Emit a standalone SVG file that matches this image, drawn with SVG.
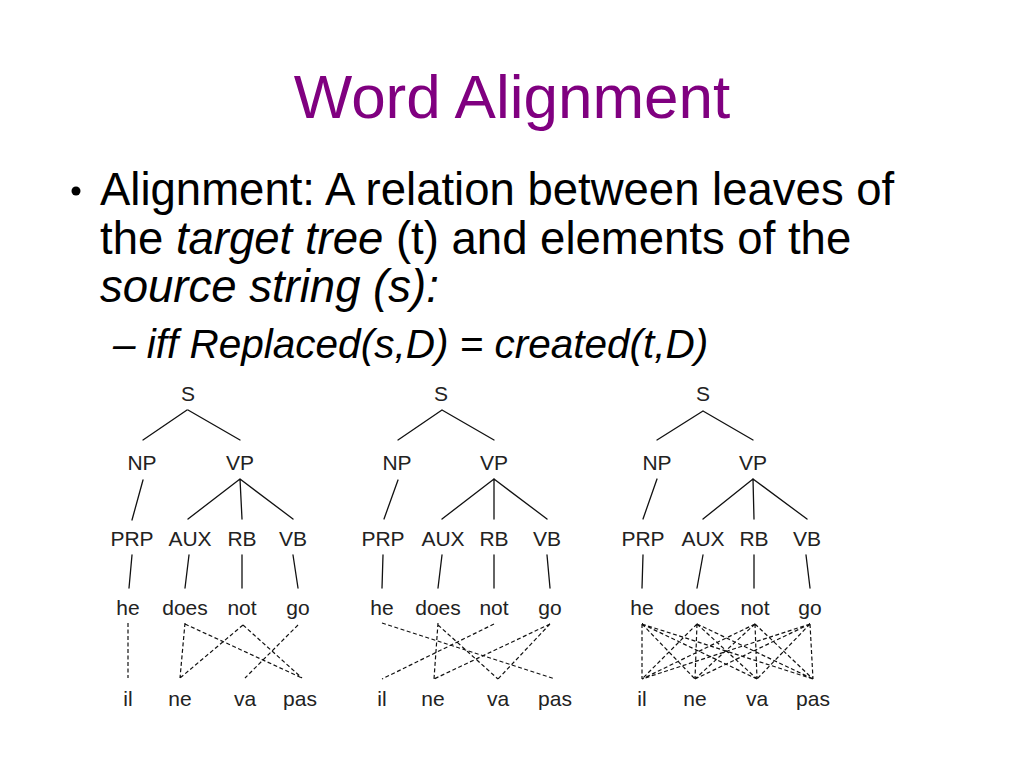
<svg xmlns="http://www.w3.org/2000/svg" width="1024" height="768" viewBox="0 0 1024 768">
<style>
.title{font-family:"Liberation Sans",Arial,sans-serif;font-size:62px;fill:#800080}
.body{font-family:"Liberation Sans",Arial,sans-serif;font-size:45.5px;fill:#000}
.sub{font-family:"Liberation Sans",Arial,sans-serif;font-size:40.5px;fill:#000;font-style:italic}
.lab{font-family:"Liberation Sans",Arial,sans-serif;font-size:21px;fill:#222;text-anchor:middle}
.edge{stroke:#111;stroke-width:1.3;fill:none;stroke-linecap:round}
.align{stroke:#111;stroke-width:1.2;fill:none;stroke-dasharray:4 2.5}
</style>
<rect width="1024" height="768" fill="#fff"/>
<text class="title" x="512" y="118" text-anchor="middle">Word Alignment</text>
<circle cx="76" cy="191" r="4.5" fill="#000"/>
<text class="body" x="100" y="205">Alignment: A relation between leaves of</text>
<text class="body" x="100" y="254">the <tspan font-style="italic">target tree</tspan> (t) and elements of the</text>
<text class="body" x="100" y="302" font-style="italic">source string (s):</text>
<text class="sub" x="113" y="358">– iff Replaced(s,D) = created(t,D)</text>

<g id="tree1">
<g id="t1-nodes">
<text class="lab" x="188" y="401">S</text>
<text class="lab" x="142" y="470">NP</text>
<text class="lab" x="240" y="470">VP</text>
<text class="lab" x="132" y="546">PRP</text>
<text class="lab" x="190" y="546">AUX</text>
<text class="lab" x="242" y="546">RB</text>
<text class="lab" x="293" y="546">VB</text>
<text class="lab" x="128" y="615">he</text>
<text class="lab" x="185" y="615">does</text>
<text class="lab" x="242" y="615">not</text>
<text class="lab" x="298" y="615">go</text>
<text class="lab" x="128" y="706">il</text>
<text class="lab" x="180" y="706">ne</text>
<text class="lab" x="245" y="706">va</text>
<text class="lab" x="300" y="706">pas</text>
</g>
<g id="t1-edges">
<path class="edge" d="M187,410L143,440M188,410L240,440M143,480L132,520M240,479L188,519M240,479L242,519M240,479L293,519M132,555L129,588M189,555L185,588M242,555L242,588M293,555L298,588"/>
<path class="align" d="M128,623L128,678M185,623L180,678M185,624L302,678M243,625L180,678M243,625L302,678M298,625L245,678"/>
</g>
</g>

<g id="tree2">
<g id="t2-nodes">
<text class="lab" x="441" y="401">S</text>
<text class="lab" x="397" y="470">NP</text>
<text class="lab" x="494" y="470">VP</text>
<text class="lab" x="383" y="546">PRP</text>
<text class="lab" x="443" y="546">AUX</text>
<text class="lab" x="494" y="546">RB</text>
<text class="lab" x="547" y="546">VB</text>
<text class="lab" x="382" y="615">he</text>
<text class="lab" x="438" y="615">does</text>
<text class="lab" x="494" y="615">not</text>
<text class="lab" x="550" y="615">go</text>
<text class="lab" x="382" y="706">il</text>
<text class="lab" x="433" y="706">ne</text>
<text class="lab" x="498" y="706">va</text>
<text class="lab" x="555" y="706">pas</text>
</g>
<g id="t2-edges">
<path class="edge" d="M442,410L398,440M442,410L494,440M398,480L384,519M494,479L442,519M494,479L494,519M494,479L547,519M383,555L382,588M442,555L438,588M494,555L494,588M547,555L550,588"/>
<path class="align" d="M382,623L555,679M438,623L434,679M438,625L498,679M494,624L382,679M550,624L434,679M550,624L498,679"/>
</g>
</g>

<g id="tree3">
<g id="t3-nodes">
<text class="lab" x="703" y="401">S</text>
<text class="lab" x="657" y="470">NP</text>
<text class="lab" x="753" y="470">VP</text>
<text class="lab" x="643" y="546">PRP</text>
<text class="lab" x="703" y="546">AUX</text>
<text class="lab" x="754" y="546">RB</text>
<text class="lab" x="807" y="546">VB</text>
<text class="lab" x="642" y="615">he</text>
<text class="lab" x="697" y="615">does</text>
<text class="lab" x="755" y="615">not</text>
<text class="lab" x="810" y="615">go</text>
<text class="lab" x="642" y="706">il</text>
<text class="lab" x="695" y="706">ne</text>
<text class="lab" x="757" y="706">va</text>
<text class="lab" x="813" y="706">pas</text>
</g>
<g id="t3-edges">
<path class="edge" d="M703,411L657,440M703,411L753,440M657,479L643,519M753,479L703,519M753,479L754,519M753,479L807,519M643,555L642,588M703,555L697,588M754,555L754,588M806,555L810,588"/>
<path class="align" d="M642,624L642,679M642,624L695,679M642,624L757,679M642,624L813,679M697,624L642,679M697,624L695,679M697,624L757,679M697,624L813,679M755,624L642,679M755,624L695,679M755,624L757,679M755,624L813,679M810,624L642,679M810,624L695,679M810,624L757,679M810,624L813,679"/>
</g>
</g>
</svg>
